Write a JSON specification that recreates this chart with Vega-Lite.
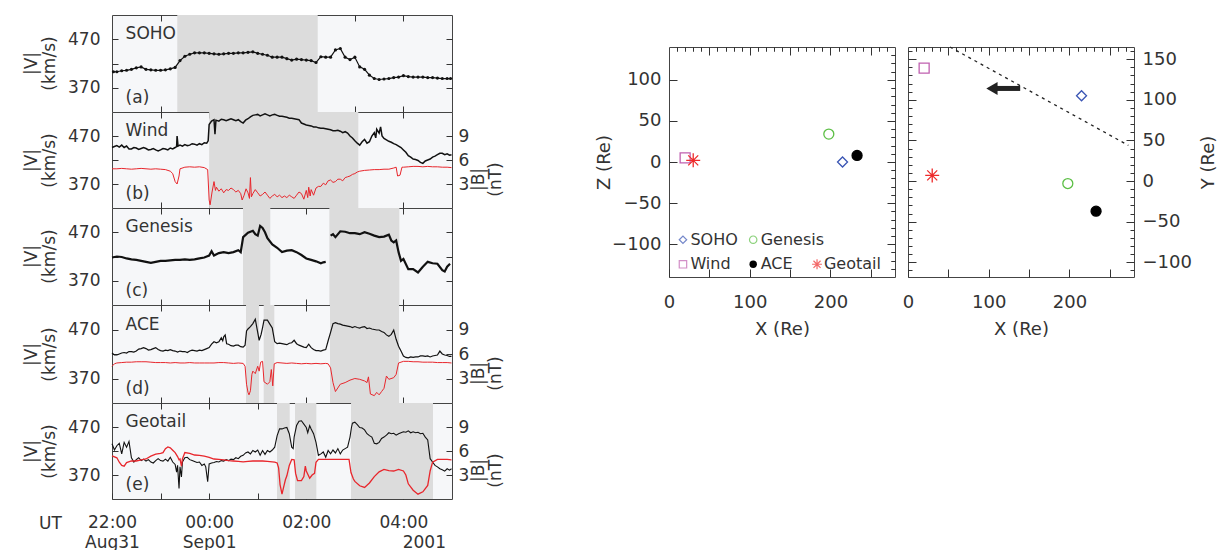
{
"$schema": "https://vega.github.io/schema/vega-lite/v6.json",
"padding": {"left": 21, "top": 14, "right": 0, "bottom": 0},
"background": "white",
"datasets": {
"soho": [{"t":-1.97,"v":403},{"t":-1.9,"v":403},{"t":-1.8,"v":405},{"t":-1.7,"v":406},{"t":-1.6,"v":408},{"t":-1.5,"v":411},{"t":-1.4,"v":413},{"t":-1.3,"v":408},{"t":-1.2,"v":407},{"t":-1.1,"v":406},{"t":-1.0,"v":406},{"t":-0.9,"v":407},{"t":-0.8,"v":409},{"t":-0.7,"v":412},{"t":-0.6,"v":426},{"t":-0.5,"v":435},{"t":-0.4,"v":439},{"t":-0.3,"v":442},{"t":-0.2,"v":442},{"t":-0.1,"v":442},{"t":0,"v":441},{"t":0.1,"v":440},{"t":0.2,"v":439},{"t":0.3,"v":440},{"t":0.4,"v":441},{"t":0.5,"v":441},{"t":0.6,"v":442},{"t":0.7,"v":442},{"t":0.8,"v":443},{"t":0.9,"v":444},{"t":1.0,"v":441},{"t":1.1,"v":439},{"t":1.2,"v":437},{"t":1.3,"v":433},{"t":1.4,"v":433},{"t":1.5,"v":433},{"t":1.6,"v":430},{"t":1.7,"v":427},{"t":1.8,"v":429},{"t":1.9,"v":428},{"t":2.0,"v":427},{"t":2.1,"v":426},{"t":2.2,"v":422},{"t":2.3,"v":434},{"t":2.4,"v":433},{"t":2.5,"v":433},{"t":2.6,"v":448},{"t":2.7,"v":451},{"t":2.8,"v":433},{"t":2.9,"v":428},{"t":3.0,"v":433},{"t":3.1,"v":413},{"t":3.2,"v":408},{"t":3.3,"v":396},{"t":3.4,"v":389},{"t":3.5,"v":387},{"t":3.6,"v":388},{"t":3.7,"v":389},{"t":3.8,"v":391},{"t":3.9,"v":392},{"t":4.0,"v":395},{"t":4.1,"v":393},{"t":4.2,"v":392},{"t":4.3,"v":392},{"t":4.4,"v":392},{"t":4.5,"v":391},{"t":4.6,"v":391},{"t":4.7,"v":390},{"t":4.8,"v":389},{"t":4.9,"v":389},{"t":4.97,"v":389}],
"wind": [{"t":-2,"v":446},{"t":-1.95,"v":448},{"t":-1.9,"v":450},{"t":-1.85,"v":447},{"t":-1.8,"v":451},{"t":-1.75,"v":446},{"t":-1.7,"v":449},{"t":-1.65,"v":443},{"t":-1.6,"v":443},{"t":-1.55,"v":446},{"t":-1.5,"v":445},{"t":-1.45,"v":442},{"t":-1.4,"v":444},{"t":-1.35,"v":446},{"t":-1.3,"v":444},{"t":-1.25,"v":441},{"t":-1.2,"v":442},{"t":-1.15,"v":444},{"t":-1.1,"v":441},{"t":-1.05,"v":439},{"t":-1.0,"v":441},{"t":-0.95,"v":444},{"t":-0.9,"v":443},{"t":-0.85,"v":441},{"t":-0.8,"v":445},{"t":-0.75,"v":443},{"t":-0.7,"v":446},{"t":-0.67,"v":448},{"t":-0.66,"v":470},{"t":-0.64,"v":449},{"t":-0.6,"v":451},{"t":-0.55,"v":449},{"t":-0.5,"v":452},{"t":-0.45,"v":450},{"t":-0.4,"v":451},{"t":-0.35,"v":454},{"t":-0.3,"v":453},{"t":-0.25,"v":451},{"t":-0.2,"v":454},{"t":-0.15,"v":452},{"t":-0.1,"v":456},{"t":-0.05,"v":455},{"t":-0.02,"v":460},{"t":0.0,"v":494},{"t":0.05,"v":501},{"t":0.1,"v":504},{"t":0.12,"v":474},{"t":0.14,"v":503},{"t":0.2,"v":501},{"t":0.25,"v":505},{"t":0.3,"v":504},{"t":0.35,"v":502},{"t":0.4,"v":504},{"t":0.45,"v":506},{"t":0.5,"v":504},{"t":0.55,"v":502},{"t":0.6,"v":504},{"t":0.65,"v":500},{"t":0.7,"v":497},{"t":0.75,"v":503},{"t":0.8,"v":506},{"t":0.85,"v":510},{"t":0.9,"v":513},{"t":0.95,"v":514},{"t":1.0,"v":515},{"t":1.05,"v":512},{"t":1.1,"v":514},{"t":1.15,"v":516},{"t":1.2,"v":514},{"t":1.25,"v":512},{"t":1.3,"v":514},{"t":1.35,"v":515},{"t":1.4,"v":513},{"t":1.45,"v":511},{"t":1.5,"v":511},{"t":1.55,"v":510},{"t":1.6,"v":509},{"t":1.65,"v":507},{"t":1.7,"v":507},{"t":1.75,"v":506},{"t":1.8,"v":505},{"t":1.85,"v":504},{"t":1.9,"v":497},{"t":1.95,"v":495},{"t":2.0,"v":493},{"t":2.05,"v":492},{"t":2.1,"v":491},{"t":2.15,"v":489},{"t":2.2,"v":489},{"t":2.25,"v":487},{"t":2.3,"v":486},{"t":2.35,"v":486},{"t":2.4,"v":485},{"t":2.45,"v":484},{"t":2.5,"v":483},{"t":2.55,"v":481},{"t":2.6,"v":481},{"t":2.65,"v":482},{"t":2.7,"v":480},{"t":2.75,"v":477},{"t":2.8,"v":479},{"t":2.85,"v":476},{"t":2.9,"v":470},{"t":2.95,"v":466},{"t":3.0,"v":460},{"t":3.05,"v":455},{"t":3.1,"v":451},{"t":3.15,"v":458},{"t":3.2,"v":463},{"t":3.25,"v":455},{"t":3.3,"v":458},{"t":3.35,"v":470},{"t":3.4,"v":477},{"t":3.43,"v":466},{"t":3.45,"v":484},{"t":3.5,"v":476},{"t":3.53,"v":489},{"t":3.56,"v":470},{"t":3.6,"v":465},{"t":3.65,"v":462},{"t":3.7,"v":459},{"t":3.75,"v":457},{"t":3.8,"v":454},{"t":3.85,"v":452},{"t":3.9,"v":449},{"t":3.95,"v":446},{"t":4.0,"v":441},{"t":4.05,"v":436},{"t":4.1,"v":429},{"t":4.15,"v":426},{"t":4.2,"v":422},{"t":4.25,"v":421},{"t":4.3,"v":419},{"t":4.35,"v":415},{"t":4.4,"v":413},{"t":4.45,"v":418},{"t":4.5,"v":420},{"t":4.55,"v":422},{"t":4.6,"v":426},{"t":4.65,"v":428},{"t":4.7,"v":431},{"t":4.75,"v":434},{"t":4.8,"v":434},{"t":4.85,"v":431},{"t":4.9,"v":433},{"t":4.95,"v":430},{"t":4.99,"v":431}],
"windB": [{"t":-2,"b":4.9},{"t":-1.9,"b":4.9},{"t":-1.8,"b":4.95},{"t":-1.7,"b":4.9},{"t":-1.6,"b":4.85},{"t":-1.5,"b":4.9},{"t":-1.4,"b":4.95},{"t":-1.3,"b":4.9},{"t":-1.2,"b":4.85},{"t":-1.1,"b":4.9},{"t":-1.0,"b":4.85},{"t":-0.9,"b":4.8},{"t":-0.8,"b":4.6},{"t":-0.75,"b":4.3},{"t":-0.7,"b":3.3},{"t":-0.66,"b":3.0},{"t":-0.62,"b":4.0},{"t":-0.6,"b":4.9},{"t":-0.5,"b":5.1},{"t":-0.4,"b":5.15},{"t":-0.3,"b":5.1},{"t":-0.2,"b":5.15},{"t":-0.1,"b":5.05},{"t":-0.03,"b":4.8},{"t":0.0,"b":1.0},{"t":0.02,"b":0.4},{"t":0.06,"b":2.0},{"t":0.1,"b":3.3},{"t":0.13,"b":2.2},{"t":0.15,"b":2.6},{"t":0.2,"b":2.1},{"t":0.25,"b":2.4},{"t":0.3,"b":1.9},{"t":0.35,"b":2.3},{"t":0.4,"b":2.2},{"t":0.45,"b":2.5},{"t":0.5,"b":2.3},{"t":0.55,"b":2.0},{"t":0.6,"b":2.2},{"t":0.65,"b":1.8},{"t":0.68,"b":1.0},{"t":0.72,"b":1.6},{"t":0.76,"b":2.4},{"t":0.8,"b":1.9},{"t":0.83,"b":1.2},{"t":0.85,"b":3.8},{"t":0.87,"b":1.4},{"t":0.9,"b":1.8},{"t":0.95,"b":2.3},{"t":1.0,"b":1.9},{"t":1.05,"b":1.5},{"t":1.1,"b":1.7},{"t":1.15,"b":2.0},{"t":1.2,"b":1.6},{"t":1.25,"b":1.2},{"t":1.3,"b":1.5},{"t":1.35,"b":1.7},{"t":1.4,"b":1.4},{"t":1.45,"b":1.6},{"t":1.5,"b":1.3},{"t":1.55,"b":1.5},{"t":1.6,"b":1.3},{"t":1.65,"b":1.6},{"t":1.7,"b":1.4},{"t":1.75,"b":1.2},{"t":1.8,"b":1.6},{"t":1.85,"b":2.0},{"t":1.9,"b":1.8},{"t":1.95,"b":1.1},{"t":2.0,"b":2.2},{"t":2.03,"b":1.3},{"t":2.05,"b":2.6},{"t":2.08,"b":1.5},{"t":2.1,"b":2.3},{"t":2.15,"b":1.6},{"t":2.2,"b":2.5},{"t":2.25,"b":2.7},{"t":2.3,"b":2.7},{"t":2.35,"b":3.1},{"t":2.4,"b":2.9},{"t":2.45,"b":3.4},{"t":2.5,"b":3.5},{"t":2.55,"b":3.2},{"t":2.6,"b":3.3},{"t":2.65,"b":3.6},{"t":2.7,"b":3.6},{"t":2.75,"b":3.4},{"t":2.8,"b":3.8},{"t":2.85,"b":3.9},{"t":2.9,"b":4.0},{"t":2.95,"b":4.2},{"t":3.0,"b":4.3},{"t":3.05,"b":4.5},{"t":3.1,"b":4.6},{"t":3.2,"b":4.7},{"t":3.3,"b":4.75},{"t":3.4,"b":4.8},{"t":3.5,"b":4.8},{"t":3.6,"b":4.85},{"t":3.7,"b":4.85},{"t":3.8,"b":5.0},{"t":3.85,"b":5.1},{"t":3.88,"b":4.0},{"t":3.93,"b":4.1},{"t":3.97,"b":5.1},{"t":4.0,"b":5.1},{"t":4.1,"b":5.15},{"t":4.2,"b":5.2},{"t":4.3,"b":5.2},{"t":4.4,"b":5.15},{"t":4.5,"b":5.2},{"t":4.6,"b":5.15},{"t":4.7,"b":5.15},{"t":4.8,"b":5.1},{"t":4.9,"b":5.1},{"t":4.99,"b":5.05}],
"genesis": [{"s":1,"t":-2,"v":418},{"s":1,"t":-1.9,"v":420},{"s":1,"t":-1.8,"v":419},{"s":1,"t":-1.7,"v":416},{"s":1,"t":-1.6,"v":414},{"s":1,"t":-1.5,"v":413},{"s":1,"t":-1.4,"v":411},{"s":1,"t":-1.3,"v":409},{"s":1,"t":-1.2,"v":407},{"s":1,"t":-1.1,"v":409},{"s":1,"t":-1.0,"v":411},{"s":1,"t":-0.9,"v":411},{"s":1,"t":-0.8,"v":412},{"s":1,"t":-0.7,"v":413},{"s":1,"t":-0.6,"v":413},{"s":1,"t":-0.5,"v":414},{"s":1,"t":-0.4,"v":413},{"s":1,"t":-0.3,"v":414},{"s":1,"t":-0.2,"v":416},{"s":1,"t":-0.1,"v":418},{"s":1,"t":-0.05,"v":420},{"s":1,"t":0,"v":422},{"s":1,"t":0.05,"v":431},{"s":1,"t":0.1,"v":422},{"s":1,"t":0.2,"v":427},{"s":1,"t":0.3,"v":429},{"s":1,"t":0.4,"v":427},{"s":1,"t":0.5,"v":429},{"s":1,"t":0.6,"v":433},{"s":1,"t":0.65,"v":429},{"s":1,"t":0.7,"v":460},{"s":1,"t":0.8,"v":469},{"s":1,"t":0.9,"v":473},{"s":1,"t":0.95,"v":466},{"s":1,"t":1.0,"v":463},{"s":1,"t":1.05,"v":483},{"s":1,"t":1.1,"v":479},{"s":1,"t":1.15,"v":470},{"s":1,"t":1.2,"v":458},{"s":1,"t":1.3,"v":445},{"s":1,"t":1.4,"v":438},{"s":1,"t":1.5,"v":429},{"s":1,"t":1.6,"v":432},{"s":1,"t":1.7,"v":433},{"s":1,"t":1.8,"v":429},{"s":1,"t":1.9,"v":423},{"s":1,"t":2.0,"v":416},{"s":1,"t":2.1,"v":413},{"s":1,"t":2.2,"v":410},{"s":1,"t":2.3,"v":406},{"s":1,"t":2.35,"v":408},{"s":1,"t":2.4,"v":409},{"s":2,"t":2.5,"v":463},{"s":2,"t":2.55,"v":466},{"s":2,"t":2.6,"v":460},{"s":2,"t":2.7,"v":472},{"s":2,"t":2.8,"v":471},{"s":2,"t":2.9,"v":468},{"s":2,"t":3.0,"v":468},{"s":2,"t":3.1,"v":466},{"s":2,"t":3.2,"v":470},{"s":2,"t":3.3,"v":467},{"s":2,"t":3.4,"v":463},{"s":2,"t":3.5,"v":460},{"s":2,"t":3.6,"v":461},{"s":2,"t":3.7,"v":465},{"s":2,"t":3.75,"v":453},{"s":2,"t":3.8,"v":449},{"s":2,"t":3.85,"v":453},{"s":2,"t":3.9,"v":429},{"s":2,"t":3.95,"v":411},{"s":2,"t":4.0,"v":415},{"s":2,"t":4.1,"v":394},{"s":2,"t":4.2,"v":394},{"s":2,"t":4.3,"v":387},{"s":2,"t":4.4,"v":399},{"s":2,"t":4.5,"v":409},{"s":2,"t":4.6,"v":406},{"s":2,"t":4.7,"v":405},{"s":2,"t":4.8,"v":392},{"s":2,"t":4.85,"v":389},{"s":2,"t":4.9,"v":399},{"s":2,"t":4.96,"v":405}],
"ace": [{"t":-2,"v":422},{"t":-1.95,"v":418},{"t":-1.9,"v":418},{"t":-1.85,"v":420},{"t":-1.8,"v":422},{"t":-1.75,"v":423},{"t":-1.7,"v":422},{"t":-1.65,"v":425},{"t":-1.6,"v":425},{"t":-1.55,"v":424},{"t":-1.5,"v":426},{"t":-1.45,"v":430},{"t":-1.4,"v":431},{"t":-1.35,"v":433},{"t":-1.3,"v":431},{"t":-1.25,"v":428},{"t":-1.2,"v":429},{"t":-1.15,"v":431},{"t":-1.1,"v":433},{"t":-1.05,"v":429},{"t":-1.0,"v":427},{"t":-0.95,"v":426},{"t":-0.9,"v":428},{"t":-0.85,"v":427},{"t":-0.8,"v":429},{"t":-0.75,"v":427},{"t":-0.7,"v":426},{"t":-0.65,"v":424},{"t":-0.6,"v":426},{"t":-0.55,"v":425},{"t":-0.5,"v":425},{"t":-0.45,"v":423},{"t":-0.4,"v":426},{"t":-0.35,"v":428},{"t":-0.3,"v":427},{"t":-0.25,"v":426},{"t":-0.2,"v":428},{"t":-0.15,"v":427},{"t":-0.1,"v":429},{"t":-0.05,"v":431},{"t":0,"v":433},{"t":0.05,"v":440},{"t":0.1,"v":445},{"t":0.15,"v":443},{"t":0.2,"v":445},{"t":0.25,"v":453},{"t":0.28,"v":447},{"t":0.3,"v":455},{"t":0.33,"v":459},{"t":0.36,"v":441},{"t":0.4,"v":440},{"t":0.45,"v":437},{"t":0.5,"v":436},{"t":0.55,"v":438},{"t":0.6,"v":438},{"t":0.65,"v":435},{"t":0.7,"v":434},{"t":0.74,"v":438},{"t":0.77,"v":467},{"t":0.8,"v":471},{"t":0.85,"v":476},{"t":0.9,"v":482},{"t":0.95,"v":491},{"t":1.0,"v":464},{"t":1.03,"v":448},{"t":1.07,"v":460},{"t":1.1,"v":474},{"t":1.13,"v":489},{"t":1.2,"v":489},{"t":1.25,"v":481},{"t":1.3,"v":473},{"t":1.35,"v":445},{"t":1.4,"v":441},{"t":1.45,"v":442},{"t":1.5,"v":441},{"t":1.55,"v":440},{"t":1.6,"v":439},{"t":1.65,"v":442},{"t":1.7,"v":443},{"t":1.75,"v":448},{"t":1.8,"v":441},{"t":1.85,"v":438},{"t":1.9,"v":436},{"t":1.95,"v":434},{"t":2.0,"v":433},{"t":2.05,"v":440},{"t":2.1,"v":433},{"t":2.15,"v":429},{"t":2.2,"v":427},{"t":2.25,"v":427},{"t":2.3,"v":426},{"t":2.35,"v":428},{"t":2.4,"v":429},{"t":2.45,"v":447},{"t":2.5,"v":464},{"t":2.55,"v":482},{"t":2.6,"v":484},{"t":2.65,"v":482},{"t":2.7,"v":481},{"t":2.75,"v":479},{"t":2.8,"v":478},{"t":2.85,"v":477},{"t":2.9,"v":476},{"t":2.95,"v":474},{"t":3.0,"v":476},{"t":3.05,"v":474},{"t":3.1,"v":473},{"t":3.15,"v":475},{"t":3.2,"v":476},{"t":3.25,"v":472},{"t":3.3,"v":473},{"t":3.35,"v":471},{"t":3.4,"v":470},{"t":3.45,"v":469},{"t":3.5,"v":469},{"t":3.55,"v":466},{"t":3.6,"v":464},{"t":3.65,"v":459},{"t":3.7,"v":456},{"t":3.75,"v":460},{"t":3.8,"v":469},{"t":3.85,"v":450},{"t":3.9,"v":436},{"t":3.95,"v":426},{"t":4.0,"v":416},{"t":4.05,"v":413},{"t":4.1,"v":412},{"t":4.15,"v":414},{"t":4.2,"v":413},{"t":4.25,"v":414},{"t":4.3,"v":414},{"t":4.35,"v":416},{"t":4.4,"v":416},{"t":4.45,"v":415},{"t":4.5,"v":416},{"t":4.55,"v":414},{"t":4.6,"v":416},{"t":4.65,"v":417},{"t":4.7,"v":418},{"t":4.75,"v":426},{"t":4.8,"v":420},{"t":4.85,"v":418},{"t":4.9,"v":417},{"t":4.95,"v":415},{"t":4.99,"v":415}],
"aceB": [{"t":-2,"b":4.5},{"t":-1.95,"b":4.8},{"t":-1.9,"b":4.9},{"t":-1.8,"b":4.95},{"t":-1.7,"b":5.0},{"t":-1.6,"b":5.0},{"t":-1.5,"b":5.05},{"t":-1.4,"b":5.05},{"t":-1.3,"b":5.05},{"t":-1.2,"b":5.0},{"t":-1.1,"b":4.95},{"t":-1.0,"b":4.95},{"t":-0.9,"b":4.95},{"t":-0.8,"b":4.9},{"t":-0.7,"b":4.95},{"t":-0.6,"b":4.9},{"t":-0.5,"b":4.9},{"t":-0.4,"b":4.95},{"t":-0.3,"b":4.9},{"t":-0.2,"b":4.9},{"t":-0.1,"b":4.9},{"t":0.0,"b":4.9},{"t":0.1,"b":4.9},{"t":0.2,"b":4.95},{"t":0.3,"b":4.95},{"t":0.4,"b":4.9},{"t":0.5,"b":4.85},{"t":0.6,"b":4.9},{"t":0.7,"b":4.85},{"t":0.74,"b":4.5},{"t":0.77,"b":2.3},{"t":0.8,"b":1.3},{"t":0.82,"b":1.0},{"t":0.85,"b":1.5},{"t":0.88,"b":3.5},{"t":0.9,"b":3.9},{"t":0.95,"b":3.6},{"t":1.0,"b":4.5},{"t":1.03,"b":3.9},{"t":1.06,"b":5.0},{"t":1.1,"b":5.1},{"t":1.13,"b":2.6},{"t":1.2,"b":2.3},{"t":1.25,"b":2.6},{"t":1.28,"b":4.1},{"t":1.31,"b":2.1},{"t":1.34,"b":4.8},{"t":1.4,"b":4.95},{"t":1.5,"b":4.9},{"t":1.6,"b":4.85},{"t":1.7,"b":4.9},{"t":1.8,"b":4.85},{"t":1.9,"b":4.8},{"t":2.0,"b":4.85},{"t":2.1,"b":4.8},{"t":2.2,"b":4.85},{"t":2.3,"b":4.8},{"t":2.4,"b":4.85},{"t":2.45,"b":4.8},{"t":2.5,"b":4.3},{"t":2.55,"b":2.5},{"t":2.6,"b":1.4},{"t":2.7,"b":2.3},{"t":2.8,"b":2.5},{"t":2.9,"b":2.8},{"t":3.0,"b":3.0},{"t":3.1,"b":2.9},{"t":3.2,"b":2.7},{"t":3.25,"b":2.5},{"t":3.28,"b":3.2},{"t":3.32,"b":1.1},{"t":3.4,"b":0.9},{"t":3.45,"b":1.3},{"t":3.5,"b":1.0},{"t":3.55,"b":1.4},{"t":3.6,"b":1.8},{"t":3.65,"b":3.3},{"t":3.7,"b":2.9},{"t":3.8,"b":3.1},{"t":3.85,"b":3.5},{"t":3.9,"b":4.9},{"t":4.0,"b":5.1},{"t":4.1,"b":5.1},{"t":4.2,"b":5.05},{"t":4.3,"b":5.05},{"t":4.4,"b":5.0},{"t":4.5,"b":5.0},{"t":4.6,"b":5.0},{"t":4.7,"b":4.95},{"t":4.8,"b":4.95},{"t":4.9,"b":4.95},{"t":4.99,"b":4.9}],
"geo": [{"t":-2,"v":435},{"t":-1.95,"v":422},{"t":-1.9,"v":431},{"t":-1.85,"v":436},{"t":-1.8,"v":414},{"t":-1.75,"v":438},{"t":-1.7,"v":428},{"t":-1.65,"v":440},{"t":-1.6,"v":406},{"t":-1.55,"v":397},{"t":-1.5,"v":402},{"t":-1.45,"v":406},{"t":-1.4,"v":400},{"t":-1.35,"v":403},{"t":-1.3,"v":399},{"t":-1.25,"v":402},{"t":-1.2,"v":397},{"t":-1.15,"v":395},{"t":-1.1,"v":400},{"t":-1.05,"v":404},{"t":-1.0,"v":400},{"t":-0.95,"v":399},{"t":-0.9,"v":403},{"t":-0.85,"v":399},{"t":-0.8,"v":407},{"t":-0.75,"v":397},{"t":-0.7,"v":392},{"t":-0.67,"v":376},{"t":-0.65,"v":390},{"t":-0.62,"v":342},{"t":-0.6,"v":387},{"t":-0.57,"v":366},{"t":-0.55,"v":397},{"t":-0.5,"v":406},{"t":-0.45,"v":407},{"t":-0.4,"v":402},{"t":-0.35,"v":400},{"t":-0.3,"v":398},{"t":-0.25,"v":396},{"t":-0.2,"v":397},{"t":-0.15,"v":390},{"t":-0.1,"v":393},{"t":-0.07,"v":387},{"t":-0.03,"v":356},{"t":0.0,"v":393},{"t":0.05,"v":395},{"t":0.1,"v":396},{"t":0.15,"v":398},{"t":0.2,"v":397},{"t":0.25,"v":400},{"t":0.3,"v":399},{"t":0.35,"v":402},{"t":0.4,"v":400},{"t":0.45,"v":403},{"t":0.5,"v":402},{"t":0.55,"v":406},{"t":0.6,"v":404},{"t":0.65,"v":409},{"t":0.7,"v":411},{"t":0.75,"v":416},{"t":0.8,"v":418},{"t":0.85,"v":414},{"t":0.9,"v":421},{"t":0.95,"v":418},{"t":1.0,"v":422},{"t":1.05,"v":411},{"t":1.1,"v":421},{"t":1.15,"v":413},{"t":1.2,"v":421},{"t":1.25,"v":418},{"t":1.3,"v":422},{"t":1.35,"v":428},{"t":1.4,"v":452},{"t":1.45,"v":466},{"t":1.5,"v":466},{"t":1.55,"v":468},{"t":1.6,"v":469},{"t":1.65,"v":456},{"t":1.7,"v":428},{"t":1.73,"v":425},{"t":1.75,"v":449},{"t":1.8,"v":473},{"t":1.85,"v":482},{"t":1.9,"v":483},{"t":1.95,"v":476},{"t":2.0,"v":469},{"t":2.03,"v":458},{"t":2.07,"v":473},{"t":2.1,"v":466},{"t":2.15,"v":456},{"t":2.2,"v":438},{"t":2.25,"v":411},{"t":2.3,"v":414},{"t":2.35,"v":418},{"t":2.4,"v":407},{"t":2.45,"v":421},{"t":2.5,"v":414},{"t":2.55,"v":422},{"t":2.6,"v":416},{"t":2.65,"v":425},{"t":2.7,"v":414},{"t":2.75,"v":422},{"t":2.8,"v":425},{"t":2.85,"v":428},{"t":2.9,"v":449},{"t":2.93,"v":469},{"t":2.95,"v":478},{"t":3.0,"v":480},{"t":3.05,"v":475},{"t":3.1,"v":469},{"t":3.15,"v":468},{"t":3.2,"v":464},{"t":3.25,"v":456},{"t":3.3,"v":452},{"t":3.35,"v":449},{"t":3.4,"v":436},{"t":3.45,"v":435},{"t":3.5,"v":438},{"t":3.55,"v":446},{"t":3.6,"v":449},{"t":3.65,"v":453},{"t":3.7,"v":458},{"t":3.75,"v":456},{"t":3.8,"v":457},{"t":3.85,"v":453},{"t":3.9,"v":456},{"t":3.95,"v":458},{"t":4.0,"v":460},{"t":4.05,"v":459},{"t":4.1,"v":462},{"t":4.15,"v":458},{"t":4.2,"v":460},{"t":4.25,"v":458},{"t":4.3,"v":459},{"t":4.35,"v":456},{"t":4.4,"v":457},{"t":4.45,"v":449},{"t":4.5,"v":443},{"t":4.55,"v":404},{"t":4.6,"v":397},{"t":4.65,"v":390},{"t":4.7,"v":387},{"t":4.75,"v":383},{"t":4.8,"v":381},{"t":4.85,"v":378},{"t":4.9,"v":383},{"t":4.95,"v":380},{"t":4.99,"v":383}],
"geoB": [{"t":-2,"b":5.4},{"t":-1.9,"b":5.15},{"t":-1.85,"b":4.6},{"t":-1.8,"b":4.2},{"t":-1.75,"b":4.1},{"t":-1.7,"b":4.55},{"t":-1.6,"b":4.75},{"t":-1.5,"b":4.75},{"t":-1.4,"b":4.9},{"t":-1.3,"b":5.0},{"t":-1.2,"b":5.35},{"t":-1.1,"b":5.6},{"t":-1.0,"b":5.7},{"t":-0.95,"b":5.8},{"t":-0.9,"b":6.3},{"t":-0.85,"b":6.5},{"t":-0.8,"b":6.4},{"t":-0.75,"b":6.1},{"t":-0.7,"b":5.8},{"t":-0.65,"b":5.3},{"t":-0.62,"b":4.9},{"t":-0.6,"b":5.0},{"t":-0.57,"b":4.1},{"t":-0.55,"b":5.0},{"t":-0.5,"b":5.8},{"t":-0.4,"b":5.7},{"t":-0.3,"b":5.5},{"t":-0.2,"b":5.45},{"t":-0.1,"b":5.35},{"t":0.0,"b":5.2},{"t":0.1,"b":5.0},{"t":0.2,"b":4.95},{"t":0.3,"b":4.9},{"t":0.4,"b":4.8},{"t":0.5,"b":4.75},{"t":0.6,"b":4.7},{"t":0.7,"b":4.65},{"t":0.8,"b":4.7},{"t":0.9,"b":4.75},{"t":1.0,"b":4.75},{"t":1.1,"b":4.75},{"t":1.2,"b":4.7},{"t":1.3,"b":4.65},{"t":1.35,"b":4.6},{"t":1.4,"b":4.5},{"t":1.43,"b":3.9},{"t":1.46,"b":1.8},{"t":1.5,"b":0.6},{"t":1.53,"b":1.4},{"t":1.57,"b":2.4},{"t":1.6,"b":2.9},{"t":1.65,"b":4.2},{"t":1.7,"b":4.95},{"t":1.75,"b":4.9},{"t":1.78,"b":3.2},{"t":1.82,"b":2.3},{"t":1.9,"b":2.3},{"t":1.95,"b":2.8},{"t":1.98,"b":4.1},{"t":2.0,"b":3.5},{"t":2.07,"b":2.6},{"t":2.12,"b":3.0},{"t":2.17,"b":3.2},{"t":2.2,"b":4.6},{"t":2.25,"b":4.95},{"t":2.4,"b":4.95},{"t":2.6,"b":4.95},{"t":2.8,"b":4.95},{"t":2.88,"b":4.95},{"t":2.92,"b":3.3},{"t":2.97,"b":2.5},{"t":3.0,"b":2.2},{"t":3.1,"b":1.65},{"t":3.2,"b":1.45},{"t":3.3,"b":2.0},{"t":3.4,"b":2.8},{"t":3.5,"b":3.4},{"t":3.6,"b":3.7},{"t":3.7,"b":3.55},{"t":3.8,"b":3.5},{"t":3.9,"b":3.7},{"t":4.0,"b":3.5},{"t":4.05,"b":3.0},{"t":4.1,"b":1.9},{"t":4.2,"b":1.1},{"t":4.3,"b":0.6},{"t":4.4,"b":0.9},{"t":4.5,"b":1.7},{"t":4.55,"b":3.5},{"t":4.6,"b":4.6},{"t":4.7,"b":4.95},{"t":4.8,"b":4.95},{"t":4.9,"b":4.95},{"t":4.99,"b":4.9}],
"shade": [{"p":"a","t0":-0.656,"t1":2.235},{"p":"b","t0":0.0,"t1":3.071},{"p":"c","t0":0.697,"t1":1.259},{"p":"c","t0":2.475,"t1":3.916},{"p":"d","t0":0.759,"t1":1.027},{"p":"d","t0":1.123,"t1":1.342},{"p":"d","t0":2.488,"t1":3.909},{"p":"e","t0":1.397,"t1":1.659},{"p":"e","t0":1.768,"t1":2.207},{"p":"e","t0":2.921,"t1":4.609}],
"labels": [{"p":"a","name":"SOHO","tag":"(a)"},{"p":"b","name":"Wind","tag":"(b)"},{"p":"c","name":"Genesis","tag":"(c)"},{"p":"d","name":"ACE","tag":"(d)"},{"p":"e","name":"Geotail","tag":"(e)"}],
"sats": [{"name":"SOHO","X":215,"Z":0,"Y":105},{"name":"Genesis","X":198,"Z":34,"Y":-3},{"name":"Wind","X":20,"Z":5,"Y":139},{"name":"ACE","X":233,"Z":8,"Y":-37},{"name":"Geotail","X":30,"Z":2,"Y":7}],
"bound": [{"X":52,"Y":165},{"X":273,"Y":44}],
"arrow": [{"X0":139,"X1":110,"Y":114}],
"head": [{"X":104,"Y":114}]
},
"hconcat": [
{"vconcat": [
{"width": 340, "height": 97, "view": {"fill": "#f6f7f9"},
 "layer": [
  {"data": {"name": "shade"}, "transform": [{"filter": "datum.p == 'a'"}], "mark": {"type": "rect", "color": "#dcdcdc"},
   "encoding": {"x": {"field": "t0", "type": "quantitative", "scale": {"domain": [-2, 5], "nice": false, "zero": false}, "axis": {"values": [-1,0,1,2,3,4], "labels": false, "tickSize": -6, "title": null}}, "x2": {"field": "t1"}}},
  {"layer": [
    {"data": {"name": "soho"}, "mark": {"type": "line", "color": "#111", "strokeWidth": 1.2, "point": {"filled": true, "size": 10, "color": "#111"}},
     "encoding": {"x": {"field": "t", "type": "quantitative", "axis": {"orient": "top", "values": [-1,0,1,2,3,4], "labels": false, "tickSize": -6, "title": null}}, "y": {"field": "v", "type": "quantitative", "scale": {"domain": [320, 520], "nice": false, "zero": false}, "axis": {"values": [370, 420, 470], "tickSize": -6, "labelPadding": 18, "labelExpr": "datum.value == 420 ? '' : datum.label", "title": ["|V|", "(km/s)"], "titleX": -81, "titleY": 48, "titleBaseline": "middle", "titleAlign": "center", "titleLineHeight": 18}}}},
    {"data": {"name": "labels"}, "transform": [{"filter": "datum.p == 'a'"}], "mark": {"type": "text", "align": "left", "baseline": "middle", "fontSize": 17, "color": "#333"}, "encoding": {"x": {"datum": -1.72}, "y": {"datum": 480}, "text": {"field": "name"}}},
    {"data": {"name": "labels"}, "transform": [{"filter": "datum.p == 'a'"}], "mark": {"type": "text", "align": "left", "baseline": "middle", "fontSize": 17, "color": "#333"}, "encoding": {"x": {"datum": -1.72}, "y": {"datum": 349}, "text": {"field": "tag"}}}
  ]},
  {"data": {"name": "soho"}, "mark": {"type": "line", "opacity": 0},
   "encoding": {"x": {"field": "t", "type": "quantitative", "axis": null}, "y": {"field": "v", "type": "quantitative", "axis": {"orient": "right", "values": [370, 420, 470], "labels": false, "tickSize": -6, "title": null}}}}
 ],
 "resolve": {"axis": {"x": "independent", "y": "independent"}}},
{"width": 340, "height": 96, "view": {"fill": "#f6f7f9"},
 "layer": [
  {"data": {"name": "shade"}, "transform": [{"filter": "datum.p == 'b'"}], "mark": {"type": "rect", "color": "#dcdcdc"},
   "encoding": {"x": {"field": "t0", "type": "quantitative", "scale": {"domain": [-2, 5], "nice": false, "zero": false}, "axis": {"values": [-1,0,1,2,3,4], "labels": false, "tickSize": -6, "title": null}}, "x2": {"field": "t1"}}},
  {"layer": [
    {"data": {"name": "wind"}, "mark": {"type": "line", "color": "#111", "strokeWidth": 1.5},
     "encoding": {"x": {"field": "t", "type": "quantitative", "axis": {"orient": "top", "values": [-1,0,1,2,3,4], "labels": false, "tickSize": -6, "title": null}}, "y": {"field": "v", "type": "quantitative", "scale": {"domain": [320, 520], "nice": false, "zero": false}, "axis": {"values": [370, 420, 470], "tickSize": -6, "labelPadding": 18, "labelExpr": "datum.value == 420 ? '' : datum.label", "title": ["|V|", "(km/s)"], "titleX": -81, "titleY": 48, "titleBaseline": "middle", "titleAlign": "center", "titleLineHeight": 18}}}},
    {"data": {"name": "labels"}, "transform": [{"filter": "datum.p == 'b'"}], "mark": {"type": "text", "align": "left", "baseline": "middle", "fontSize": 17, "color": "#333"}, "encoding": {"x": {"datum": -1.72}, "y": {"datum": 480}, "text": {"field": "name"}}},
    {"data": {"name": "labels"}, "transform": [{"filter": "datum.p == 'b'"}], "mark": {"type": "text", "align": "left", "baseline": "middle", "fontSize": 17, "color": "#333"}, "encoding": {"x": {"datum": -1.72}, "y": {"datum": 349}, "text": {"field": "tag"}}}
  ]},
  {"data": {"name": "windB"}, "mark": {"type": "line", "color": "#e8262c", "strokeWidth": 1},
   "encoding": {"x": {"field": "t", "type": "quantitative", "axis": null}, "y": {"field": "b", "type": "quantitative", "scale": {"domain": [0, 12], "nice": false, "zero": false}, "axis": {"orient": "right", "values": [3, 6, 9], "tickSize": -6, "labelPadding": 12, "title": ["|B|", "(nT)"], "titleAngle": 270, "titleX": 26, "titleY": 67, "titleBaseline": "middle", "titleAlign": "center", "titleLineHeight": 17}}}}
 ],
 "resolve": {"scale": {"y": "independent"}, "axis": {"x": "independent", "y": "independent"}}},
{"width": 340, "height": 97, "view": {"fill": "#f6f7f9"},
 "layer": [
  {"data": {"name": "shade"}, "transform": [{"filter": "datum.p == 'c'"}], "mark": {"type": "rect", "color": "#dcdcdc"},
   "encoding": {"x": {"field": "t0", "type": "quantitative", "scale": {"domain": [-2, 5], "nice": false, "zero": false}, "axis": {"values": [-1,0,1,2,3,4], "labels": false, "tickSize": -6, "title": null}}, "x2": {"field": "t1"}}},
  {"layer": [
    {"data": {"name": "genesis"}, "mark": {"type": "line", "color": "#111", "strokeWidth": 2.2},
     "encoding": {"x": {"field": "t", "type": "quantitative", "axis": {"orient": "top", "values": [-1,0,1,2,3,4], "labels": false, "tickSize": -6, "title": null}}, "detail": {"field": "s"}, "y": {"field": "v", "type": "quantitative", "scale": {"domain": [320, 520], "nice": false, "zero": false}, "axis": {"values": [370, 420, 470], "tickSize": -6, "labelPadding": 18, "labelExpr": "datum.value == 420 ? '' : datum.label", "title": ["|V|", "(km/s)"], "titleX": -81, "titleY": 48, "titleBaseline": "middle", "titleAlign": "center", "titleLineHeight": 18}}}},
    {"data": {"name": "labels"}, "transform": [{"filter": "datum.p == 'c'"}], "mark": {"type": "text", "align": "left", "baseline": "middle", "fontSize": 17, "color": "#333"}, "encoding": {"x": {"datum": -1.72}, "y": {"datum": 480}, "text": {"field": "name"}}},
    {"data": {"name": "labels"}, "transform": [{"filter": "datum.p == 'c'"}], "mark": {"type": "text", "align": "left", "baseline": "middle", "fontSize": 17, "color": "#333"}, "encoding": {"x": {"datum": -1.72}, "y": {"datum": 349}, "text": {"field": "tag"}}}
  ]},
  {"data": {"name": "genesis"}, "mark": {"type": "line", "opacity": 0},
   "encoding": {"x": {"field": "t", "type": "quantitative", "axis": null}, "detail": {"field": "s"}, "y": {"field": "v", "type": "quantitative", "axis": {"orient": "right", "values": [370, 420, 470], "labels": false, "tickSize": -6, "title": null}}}}
 ],
 "resolve": {"axis": {"x": "independent", "y": "independent"}}},
{"width": 340, "height": 98, "view": {"fill": "#f6f7f9"},
 "layer": [
  {"data": {"name": "shade"}, "transform": [{"filter": "datum.p == 'd'"}], "mark": {"type": "rect", "color": "#dcdcdc"},
   "encoding": {"x": {"field": "t0", "type": "quantitative", "scale": {"domain": [-2, 5], "nice": false, "zero": false}, "axis": {"values": [-1,0,1,2,3,4], "labels": false, "tickSize": -6, "title": null}}, "x2": {"field": "t1"}}},
  {"layer": [
    {"data": {"name": "ace"}, "mark": {"type": "line", "color": "#111", "strokeWidth": 1.2},
     "encoding": {"x": {"field": "t", "type": "quantitative", "axis": {"orient": "top", "values": [-1,0,1,2,3,4], "labels": false, "tickSize": -6, "title": null}}, "y": {"field": "v", "type": "quantitative", "scale": {"domain": [320, 520], "nice": false, "zero": false}, "axis": {"values": [370, 420, 470], "tickSize": -6, "labelPadding": 18, "labelExpr": "datum.value == 420 ? '' : datum.label", "title": ["|V|", "(km/s)"], "titleX": -81, "titleY": 49, "titleBaseline": "middle", "titleAlign": "center", "titleLineHeight": 18}}}},
    {"data": {"name": "labels"}, "transform": [{"filter": "datum.p == 'd'"}], "mark": {"type": "text", "align": "left", "baseline": "middle", "fontSize": 17, "color": "#333"}, "encoding": {"x": {"datum": -1.72}, "y": {"datum": 480}, "text": {"field": "name"}}},
    {"data": {"name": "labels"}, "transform": [{"filter": "datum.p == 'd'"}], "mark": {"type": "text", "align": "left", "baseline": "middle", "fontSize": 17, "color": "#333"}, "encoding": {"x": {"datum": -1.72}, "y": {"datum": 349}, "text": {"field": "tag"}}}
  ]},
  {"data": {"name": "aceB"}, "mark": {"type": "line", "color": "#e8262c", "strokeWidth": 1},
   "encoding": {"x": {"field": "t", "type": "quantitative", "axis": null}, "y": {"field": "b", "type": "quantitative", "scale": {"domain": [0, 12], "nice": false, "zero": false}, "axis": {"orient": "right", "values": [3, 6, 9], "tickSize": -6, "labelPadding": 12, "title": ["|B|", "(nT)"], "titleAngle": 270, "titleX": 26, "titleY": 68, "titleBaseline": "middle", "titleAlign": "center", "titleLineHeight": 17}}}}
 ],
 "resolve": {"scale": {"y": "independent"}, "axis": {"x": "independent", "y": "independent"}}},
{"width": 340, "height": 96, "view": {"fill": "#f6f7f9"},
 "layer": [
  {"data": {"name": "shade"}, "transform": [{"filter": "datum.p == 'e'"}], "mark": {"type": "rect", "color": "#dcdcdc"},
   "encoding": {"x": {"field": "t0", "type": "quantitative", "scale": {"domain": [-2, 5], "nice": false, "zero": false}, "axis": {"values": [-2,-1,0,1,2,3,4,4.42], "tickSize": -6, "tickOpacity": {"condition": {"test": "datum.value == 4.42", "value": 0}, "value": 1}, "labelPadding": 21, "labelFontSize": 17, "labelFlush": false, "labelOverlap": false, "labelBound": false, "labelLineHeight": 20, "labelExpr": "datum.value == -2 ? ['22:00','Aug31'] : datum.value == 0 ? ['00:00','Sep01'] : datum.value == 2 ? ['02:00',''] : datum.value == 4 ? ['04:00',''] : datum.value == 4.42 ? ['','2001'] : ''", "title": "UT", "titleX": -62, "titleY": 24, "titleBaseline": "middle", "titleAlign": "center"}}, "x2": {"field": "t1"}}},
  {"layer": [
    {"data": {"name": "geo"}, "mark": {"type": "line", "color": "#111", "strokeWidth": 1.1},
     "encoding": {"x": {"field": "t", "type": "quantitative", "axis": {"orient": "top", "values": [-1,0,1,2,3,4], "labels": false, "tickSize": -6, "title": null}}, "y": {"field": "v", "type": "quantitative", "scale": {"domain": [320, 520], "nice": false, "zero": false}, "axis": {"values": [370, 420, 470], "tickSize": -6, "labelPadding": 18, "labelExpr": "datum.value == 420 ? '' : datum.label", "title": ["|V|", "(km/s)"], "titleX": -81, "titleY": 48, "titleBaseline": "middle", "titleAlign": "center", "titleLineHeight": 18}}}},
    {"data": {"name": "labels"}, "transform": [{"filter": "datum.p == 'e'"}], "mark": {"type": "text", "align": "left", "baseline": "middle", "fontSize": 17, "color": "#333"}, "encoding": {"x": {"datum": -1.72}, "y": {"datum": 480}, "text": {"field": "name"}}},
    {"data": {"name": "labels"}, "transform": [{"filter": "datum.p == 'e'"}], "mark": {"type": "text", "align": "left", "baseline": "middle", "fontSize": 17, "color": "#333"}, "encoding": {"x": {"datum": -1.72}, "y": {"datum": 349}, "text": {"field": "tag"}}}
  ]},
  {"data": {"name": "geoB"}, "mark": {"type": "line", "color": "#e8262c", "strokeWidth": 1.3},
   "encoding": {"x": {"field": "t", "type": "quantitative", "axis": null}, "y": {"field": "b", "type": "quantitative", "scale": {"domain": [0, 12], "nice": false, "zero": false}, "axis": {"orient": "right", "values": [3, 6, 9], "tickSize": -6, "labelPadding": 12, "title": ["|B|", "(nT)"], "titleAngle": 270, "titleX": 26, "titleY": 67, "titleBaseline": "middle", "titleAlign": "center", "titleLineHeight": 17}}}}
 ],
 "resolve": {"scale": {"y": "independent"}, "axis": {"x": "independent", "y": "independent"}}}
], "spacing": 0, "bounds": "flush"},
{"vconcat": [
 {"width": 20, "height": 32, "view": {"stroke": null}, "data": {"name": "head"}, "mark": {"type": "point", "opacity": 0}, "encoding": {}},
 {"hconcat": [
  {"width": 226, "height": 230, "data": {"name": "sats"},
   "layer": [
    {"mark": {"type": "point", "strokeWidth": 1.3, "opacity": 1},
     "encoding": {
      "x": {"field": "X", "type": "quantitative", "scale": {"domain": [0, 280], "nice": false, "zero": false}, "axis": {"values": [0,50,100,150,200,250], "tickSize": -8, "labelPadding": 24, "labelFontSize": 18, "labelFlush": false, "labelExpr": "datum.value % 100 == 0 ? datum.label : ''", "title": "X (Re)", "titleFontSize": 18, "titleX": 113, "titleY": 52, "titleBaseline": "middle", "titleAlign": "center"}},
      "y": {"field": "Z", "type": "quantitative", "scale": {"domain": [-140, 140], "nice": false, "zero": false}, "axis": {"values": [-100,-50,0,50,100], "tickSize": -8, "labelPadding": 16, "labelFontSize": 18, "title": "Z (Re)", "titleFontSize": 18, "titleX": -65, "titleY": 115, "titleBaseline": "middle", "titleAlign": "center"}},
      "shape": {"field": "name", "type": "nominal", "scale": {"domain": ["SOHO","Genesis","Wind","ACE","Geotail"], "range": ["diamond","circle","square","circle","M-1.4,0L1.4,0M0,-1.4L0,1.4M-1,-1L1,1M-1,1L1,-1"]}, "legend": null},
      "stroke": {"field": "name", "type": "nominal", "scale": {"domain": ["SOHO","Genesis","Wind","ACE","Geotail"], "range": ["#3a55b4","#5cbf45","#c060b0","#000000","#ee2a2a"]}, "legend": null},
      "fill": {"field": "name", "type": "nominal", "scale": {"domain": ["SOHO","Genesis","Wind","ACE","Geotail"], "range": ["transparent","transparent","transparent","#000000","transparent"]}, "legend": null},
      "size": {"value": 100}
     }},
    {"mark": {"type": "point", "opacity": 0},
     "encoding": {"x": {"field": "X", "type": "quantitative", "axis": {"values": [10,20,30,40,60,70,80,90,110,120,130,140,160,170,180,190,210,220,230,240,260,270], "tickSize": -4, "labels": false, "title": null}},
      "y": {"field": "Z", "type": "quantitative", "axis": {"values": [-130,-120,-110,-90,-80,-70,-60,-40,-30,-20,-10,10,20,30,40,60,70,80,90,110,120,130], "tickSize": -4, "labels": false, "title": null}}}},
    {"mark": {"type": "point", "opacity": 0},
     "encoding": {"x": {"field": "X", "type": "quantitative", "axis": {"orient": "top", "values": [50,100,150,200,250], "tickSize": -8, "labels": false, "title": null}},
      "y": {"field": "Z", "type": "quantitative", "axis": {"orient": "right", "values": [-100,-50,0,50,100], "tickSize": -8, "labels": false, "title": null}}}},
    {"mark": {"type": "point", "opacity": 0},
     "encoding": {"x": {"field": "X", "type": "quantitative", "axis": {"orient": "top", "values": [10,20,30,40,60,70,80,90,110,120,130,140,160,170,180,190,210,220,230,240,260,270], "tickSize": -4, "labels": false, "title": null}},
      "y": {"field": "Z", "type": "quantitative", "axis": {"orient": "right", "values": [-130,-120,-110,-90,-80,-70,-60,-40,-30,-20,-10,10,20,30,40,60,70,80,90,110,120,130], "tickSize": -4, "labels": false, "title": null}}}},
    {"transform": [{"filter": "datum.name == 'SOHO'"}], "mark": {"type": "point", "shape": "diamond", "color": "#3a55b4", "size": 55, "strokeWidth": 1.2},
     "encoding": {"x": {"datum": 17.3, "axis": null}, "y": {"datum": -94.6, "axis": null}}},
    {"transform": [{"filter": "datum.name == 'Genesis'"}], "mark": {"type": "point", "shape": "circle", "color": "#5cbf45", "size": 55, "strokeWidth": 1.2},
     "encoding": {"x": {"datum": 104.3, "axis": null}, "y": {"datum": -94.6, "axis": null}}},
    {"transform": [{"filter": "datum.name == 'Wind'"}], "mark": {"type": "point", "shape": "square", "color": "#c060b0", "size": 55, "strokeWidth": 1.2},
     "encoding": {"x": {"datum": 17.3, "axis": null}, "y": {"datum": -124.5, "axis": null}}},
    {"transform": [{"filter": "datum.name == 'ACE'"}], "mark": {"type": "point", "shape": "circle", "filled": true, "color": "#000000", "size": 55, "opacity": 1},
     "encoding": {"x": {"datum": 104.3, "axis": null}, "y": {"datum": -124.5, "axis": null}}},
    {"transform": [{"filter": "datum.name == 'Geotail'"}], "mark": {"type": "point", "shape": "M-1.4,0L1.4,0M0,-1.4L0,1.4M-1,-1L1,1M-1,1L1,-1", "color": "#ee2a2a", "size": 50, "strokeWidth": 1.2},
     "encoding": {"x": {"datum": 183.4, "axis": null}, "y": {"datum": -124.5, "axis": null}}},
    {"transform": [{"filter": "datum.name == 'SOHO'"}], "mark": {"type": "text", "align": "left", "baseline": "middle", "fontSize": 16, "color": "#333"},
     "encoding": {"x": {"datum": 26.5, "axis": null}, "y": {"datum": -94.6, "axis": null}, "text": {"field": "name"}}},
    {"transform": [{"filter": "datum.name == 'Genesis'"}], "mark": {"type": "text", "align": "left", "baseline": "middle", "fontSize": 16, "color": "#333"},
     "encoding": {"x": {"datum": 113.6, "axis": null}, "y": {"datum": -94.6, "axis": null}, "text": {"field": "name"}}},
    {"transform": [{"filter": "datum.name == 'Wind'"}], "mark": {"type": "text", "align": "left", "baseline": "middle", "fontSize": 16, "color": "#333"},
     "encoding": {"x": {"datum": 26.5, "axis": null}, "y": {"datum": -124.5, "axis": null}, "text": {"field": "name"}}},
    {"transform": [{"filter": "datum.name == 'ACE'"}], "mark": {"type": "text", "align": "left", "baseline": "middle", "fontSize": 16, "color": "#333"},
     "encoding": {"x": {"datum": 113.6, "axis": null}, "y": {"datum": -124.5, "axis": null}, "text": {"field": "name"}}},
    {"transform": [{"filter": "datum.name == 'Geotail'"}], "mark": {"type": "text", "align": "left", "baseline": "middle", "fontSize": 16, "color": "#333"},
     "encoding": {"x": {"datum": 192, "axis": null}, "y": {"datum": -124.5, "axis": null}, "text": {"field": "name"}}}
   ],
   "resolve": {"axis": {"x": "independent", "y": "independent"}}},
  {"width": 226, "height": 230,
   "layer": [
    {"data": {"name": "sats"}, "mark": {"type": "point", "strokeWidth": 1.3, "opacity": 1},
     "encoding": {
      "x": {"field": "X", "type": "quantitative", "scale": {"domain": [0, 280], "nice": false, "zero": false}, "axis": {"values": [0,50,100,150,200,250], "tickSize": -8, "labelPadding": 24, "labelFontSize": 18, "labelFlush": false, "labelExpr": "datum.value % 100 == 0 ? datum.label : ''", "title": "X (Re)", "titleFontSize": 18, "titleX": 113, "titleY": 52, "titleBaseline": "middle", "titleAlign": "center"}},
      "y": {"field": "Y", "type": "quantitative", "scale": {"domain": [-118, 165], "nice": false, "zero": false}, "axis": {"orient": "right", "values": [-100,-50,0,50,100,150], "tickSize": -8, "labelPadding": 16, "labelFontSize": 18, "title": "Y (Re)", "titleFontSize": 18, "titleAngle": 270, "titleX": 74, "titleY": 115, "titleBaseline": "middle", "titleAlign": "center"}},
      "shape": {"field": "name", "type": "nominal", "scale": {"domain": ["SOHO","Genesis","Wind","ACE","Geotail"], "range": ["diamond","circle","square","circle","M-1.4,0L1.4,0M0,-1.4L0,1.4M-1,-1L1,1M-1,1L1,-1"]}, "legend": null},
      "stroke": {"field": "name", "type": "nominal", "scale": {"domain": ["SOHO","Genesis","Wind","ACE","Geotail"], "range": ["#3a55b4","#5cbf45","#c060b0","#000000","#ee2a2a"]}, "legend": null},
      "fill": {"field": "name", "type": "nominal", "scale": {"domain": ["SOHO","Genesis","Wind","ACE","Geotail"], "range": ["transparent","transparent","transparent","#000000","transparent"]}, "legend": null},
      "size": {"value": 100}
     }},
    {"data": {"name": "sats"}, "mark": {"type": "point", "opacity": 0},
     "encoding": {"x": {"field": "X", "type": "quantitative", "axis": {"values": [10,20,30,40,60,70,80,90,110,120,130,140,160,170,180,190,210,220,230,240,260,270], "tickSize": -4, "labels": false, "title": null}},
      "y": {"field": "Y", "type": "quantitative", "axis": {"orient": "right", "values": [-110,-90,-80,-70,-60,-40,-30,-20,-10,10,20,30,40,60,70,80,90,110,120,130,140,160], "tickSize": -4, "labels": false, "title": null}}}},
    {"data": {"name": "sats"}, "mark": {"type": "point", "opacity": 0},
     "encoding": {"x": {"field": "X", "type": "quantitative", "axis": {"orient": "top", "values": [50,100,150,200,250], "tickSize": -8, "labels": false, "title": null}},
      "y": {"field": "Y", "type": "quantitative", "axis": {"orient": "left", "values": [-100,-50,0,50,100,150], "tickSize": -8, "labels": false, "title": null}}}},
    {"data": {"name": "sats"}, "mark": {"type": "point", "opacity": 0},
     "encoding": {"x": {"field": "X", "type": "quantitative", "axis": {"orient": "top", "values": [10,20,30,40,60,70,80,90,110,120,130,140,160,170,180,190,210,220,230,240,260,270], "tickSize": -4, "labels": false, "title": null}},
      "y": {"field": "Y", "type": "quantitative", "axis": {"orient": "left", "values": [-110,-90,-80,-70,-60,-40,-30,-20,-10,10,20,30,40,60,70,80,90,110,120,130,140,160], "tickSize": -4, "labels": false, "title": null}}}},
    {"data": {"name": "bound"}, "mark": {"type": "line", "color": "#222", "strokeWidth": 1.3, "strokeDash": [3, 4]},
     "encoding": {"x": {"field": "X", "type": "quantitative", "axis": null}, "y": {"field": "Y", "type": "quantitative", "axis": null}}},
    {"data": {"name": "arrow"}, "mark": {"type": "rule", "color": "#222", "strokeWidth": 5},
     "encoding": {"x": {"field": "X0", "type": "quantitative", "axis": null}, "x2": {"field": "X1"}, "y": {"field": "Y", "type": "quantitative", "axis": null}}},
    {"data": {"name": "head"}, "mark": {"type": "point", "shape": "triangle-left", "filled": true, "color": "#222", "size": 170, "opacity": 1},
     "encoding": {"x": {"field": "X", "type": "quantitative", "axis": null}, "y": {"field": "Y", "type": "quantitative", "axis": null}}}
   ],
   "resolve": {"axis": {"x": "independent", "y": "independent"}}}
 ], "spacing": 13, "bounds": "flush"}
], "spacing": 0, "bounds": "flush"}
],
"spacing": 90,
"config": {
 "font": "DejaVu Sans",
 "view": {"stroke": "#444", "strokeWidth": 1},
 "axis": {"grid": false, "domain": false, "labelFont": "DejaVu Sans", "titleFont": "DejaVu Sans", "labelFontSize": 17, "titleFontSize": 17, "titleFontWeight": "normal", "labelColor": "#333", "titleColor": "#333", "tickColor": "#333", "tickWidth": 1},
 "text": {"font": "DejaVu Sans"}
}
}
